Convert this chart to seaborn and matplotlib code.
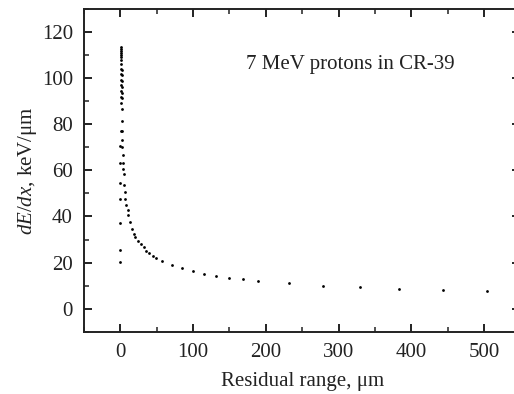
import pandas as pd
import matplotlib.pyplot as plt
import seaborn as sns
from matplotlib.ticker import MultipleLocator

# Residual range (um) and stopping power (keV/um)
residual_range = [
    1.4, 1.4, 1.4, 1.4, 1.4, 1.4, 1.4, 1.4, 0.4, 1.8,
    0.4, 2.3, 0.9, 2.3, 1.4, 2.3, 1.4, 2.3, 1.4, 2.3,
    0.4, 2.3, 2.3, 0.9, 2.8, 2.3, 0.0, 2.8, 3.7, 0.0,
    3.6, 4.1, 5.0, 0.0, 5.0, 6.0, 0.0, 6.9, 7.7, 10.0,
    10.5, 0.0, 12.8, 15.6, 18.3, 20.1, 24.3, 28.4, 32.0, 35.7,
    39.9, 44.9, 48.6, 0.0, 0.0, 57.8, 70.6, 84.8, 99.9, 115.0,
    131.0, 150.0, 168.5, 189.0, 232.0, 279.0, 330.0, 383.0, 443.0, 504.5,
]
dedx = [
    113.3, 112.4, 111.5, 110.7, 109.8, 109.0, 107.8, 106.1, 103.8, 103.2,
    101.6, 101.3, 99.1, 98.6, 97.0, 96.2, 94.1, 93.6, 91.6, 91.2,
    89.1, 86.7, 81.4, 77.1, 76.8, 73.2, 70.6, 69.9, 66.4, 63.1,
    63.1, 60.5, 58.2, 54.5, 53.7, 50.6, 47.7, 47.6, 45.1, 42.8,
    40.8, 37.2, 37.4, 34.6, 32.6, 31.1, 29.5, 27.9, 26.6, 25.2,
    24.2, 23.0, 22.2, 25.6, 20.3, 20.6, 18.9, 17.6, 16.4, 15.1,
    14.3, 13.5, 12.9, 12.1, 11.1, 10.1, 9.3, 8.6, 8.2, 7.8,
]

df = pd.DataFrame({"range": residual_range, "dedx": dedx})

sns.set_theme(style="ticks")
plt.rcParams["font.family"] = ["Liberation Serif", "DejaVu Serif"]
plt.rcParams["mathtext.fontset"] = "custom"
plt.rcParams["mathtext.rm"] = "Liberation Serif"
plt.rcParams["mathtext.it"] = "Liberation Serif:italic"

fig = plt.figure(figsize=(5.14, 3.94), dpi=100)
# right spine sits just past the edge of the image, as in the original
ax = fig.add_axes([0.1634, 0.1574, 0.849, 0.821])

sns.scatterplot(data=df, x="range", y="dedx", ax=ax,
                s=4, color="black", linewidth=0, legend=False)

ax.set_xlim(-50, 550)
ax.set_ylim(-10, 130)
ax.xaxis.set_major_locator(MultipleLocator(100))
ax.xaxis.set_minor_locator(MultipleLocator(50))
ax.yaxis.set_major_locator(MultipleLocator(20))
ax.yaxis.set_minor_locator(MultipleLocator(10))

ax.tick_params(which="both", direction="in", top=True, right=True,
               colors="#222222", labelsize=15, pad=8)
ax.tick_params(which="major", length=6, width=1.4)
ax.tick_params(which="minor", length=3.5, width=1.1)
for sp in ax.spines.values():
    sp.set_linewidth(1.4)
    sp.set_color("#222222")

ax.set_xlabel("Residual range, μm", fontsize=15, color="#222222", labelpad=7)
ax.set_ylabel("$dE/dx$, keV/μm", fontsize=15, color="#222222", labelpad=2)

ax.text(316, 105.6, "7 MeV protons in CR-39", ha="center", va="center",
        fontsize=15, color="#222222")

fig.savefig("out.png", dpi=100)
